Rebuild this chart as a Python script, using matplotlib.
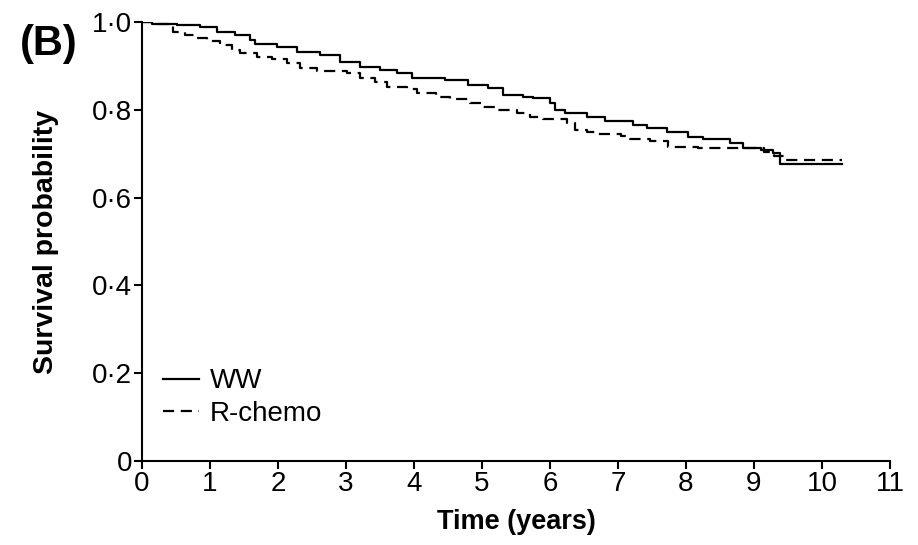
import matplotlib
matplotlib.use("Agg")
import matplotlib.pyplot as plt

plt.rcParams['font.family'] = ['Liberation Sans', 'DejaVu Sans']

# WW (solid) Kaplan-Meier steps
ww_t = [0, 0.14, 0.51, 0.85, 1.10, 1.37, 1.59, 1.66, 1.98, 2.28, 2.62, 2.91,
        3.21, 3.50, 3.75, 3.97, 4.46, 4.79, 5.09, 5.31, 5.60, 5.75, 6.00,
        6.07, 6.22, 6.54, 6.81, 7.22, 7.42, 7.72, 8.03, 8.25, 8.65, 8.84,
        9.11, 9.28, 9.38, 10.29]
ww_s = [1.0, 0.996, 0.993, 0.988, 0.977, 0.970, 0.959, 0.951, 0.944, 0.931,
        0.925, 0.910, 0.898, 0.891, 0.883, 0.872, 0.868, 0.856, 0.849, 0.834,
        0.830, 0.826, 0.815, 0.800, 0.793, 0.784, 0.774, 0.765, 0.758, 0.750,
        0.737, 0.733, 0.724, 0.713, 0.708, 0.701, 0.677, 0.677]

# R-chemo (dashed)
rc_t = [0, 0.14, 0.46, 0.63, 0.80, 0.95, 1.15, 1.32, 1.44, 1.69, 1.91, 2.13,
        2.32, 2.57, 3.01, 3.21, 3.43, 3.60, 3.89, 4.04, 4.33, 4.53, 4.82,
        5.02, 5.22, 5.51, 5.71, 5.90, 6.25, 6.37, 6.54, 6.69, 7.05, 7.18,
        7.47, 7.74, 8.18, 9.15, 9.30, 9.47, 10.29]
rc_s = [1.0, 0.995, 0.977, 0.970, 0.963, 0.957, 0.948, 0.936, 0.930, 0.920,
        0.915, 0.907, 0.895, 0.889, 0.883, 0.872, 0.864, 0.851, 0.847, 0.838,
        0.830, 0.824, 0.815, 0.807, 0.800, 0.792, 0.783, 0.778, 0.769, 0.754,
        0.750, 0.745, 0.740, 0.733, 0.730, 0.716, 0.712, 0.703, 0.695, 0.686,
        0.686]

xticks = list(range(0, 12))
yticks = [0, 0.2, 0.4, 0.6, 0.8, 1.0]
ytick_labels = ["0", "0·2", "0·4", "0·6", "0·8", "1·0"]

fig = plt.figure(figsize=(9.18, 5.45), dpi=100)
ax = fig.add_axes([142/918, 1-461/545, (890-142)/918, (461-22)/545])

ax.step(ww_t, ww_s, where='post', color='black', lw=1.6, label='WW')
ax.step(rc_t, rc_s, where='post', color='black', lw=1.6, ls=(0, (5, 3)),
        label='R-chemo')

ax.set_xlim(0, 11)
ax.set_ylim(0, 1.0)
ax.set_xticks(xticks)
ax.set_yticks(yticks)
ax.set_yticklabels(ytick_labels)
ax.tick_params(labelsize=20, width=1.5, length=6, pad=1)
for s in ['top', 'right']:
    ax.spines[s].set_visible(False)
for s in ['left', 'bottom']:
    ax.spines[s].set_linewidth(1.5)

ax.set_xlabel("Time (years)", fontsize=19.5, fontweight='bold', labelpad=9)
ax.set_ylabel("Survival probability", fontsize=20.5, fontweight='bold', labelpad=24)
fig.text(20/918, 1-44/545, "(B)", fontsize=30, fontweight='bold', va='center')

ax.legend(loc='lower left', bbox_to_anchor=(0.028, 0.077), frameon=False,
          borderaxespad=0, borderpad=0, fontsize=20, handlelength=1.3,
          handletextpad=0.4, labelspacing=0.25)

fig.savefig("out.png", dpi=100)
